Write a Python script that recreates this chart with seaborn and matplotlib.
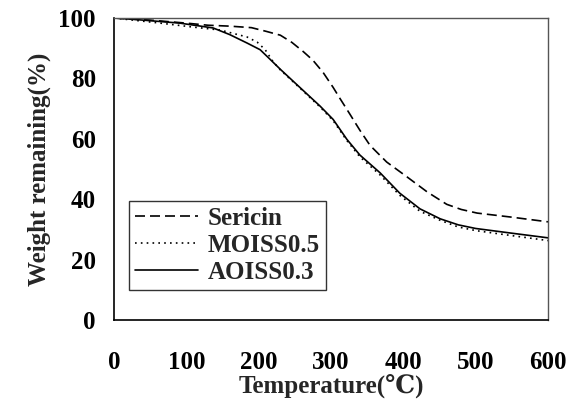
import numpy as np
import pandas as pd
import seaborn as sns
import matplotlib.pyplot as plt

# TGA curves
temp_sericin = [0, 50, 100, 130, 160, 190, 210, 230, 246, 262, 275, 289, 303, 312, 326,
                340, 354, 377, 405, 433, 460, 480, 502, 548, 600]
wt_sericin = [100, 99.3, 98.3, 97.6, 97.3, 96.8, 95.6, 94.3, 91.9, 88.8, 86, 82, 77, 73.5, 68.2,
              62.8, 57.8, 52.3, 47.4, 42.4, 38.3, 36.6, 35.4, 34.1, 32.5]

temp_moiss = [0, 64, 109, 147, 184, 198, 209, 220, 230, 257, 285, 303, 322, 340,
              368, 395, 423, 451, 476, 500, 548, 600]
wt_moiss = [100, 98.3, 97, 96, 93.7, 92, 89.5, 85.5, 82.8, 76.8, 70.5, 66, 59.4, 54,
            48, 41.3, 36, 33, 30.8, 29.6, 28, 26.3]

temp_aoiss = [0, 40, 91, 137, 160, 184, 202, 215, 230, 257, 285, 303, 322, 340,
              368, 395, 423, 451, 476, 500, 548, 600]
wt_aoiss = [100, 99.3, 98.3, 96.7, 94.5, 91.7, 89.5, 86.5, 83, 77, 70.8, 66.4, 59.8, 54.6,
            48.7, 42, 36.8, 33.5, 31.5, 30.3, 28.8, 27.2]

names = ["Sericin", "MOISS0.5", "AOISS0.3"]
x_ticks = [0, 100, 200, 300, 400, 500, 600]
y_ticks = [0, 20, 40, 60, 80, 100]

df = pd.concat([
    pd.DataFrame({"T": temp_sericin, "W": wt_sericin, "sample": names[0]}),
    pd.DataFrame({"T": temp_moiss, "W": wt_moiss, "sample": names[1]}),
    pd.DataFrame({"T": temp_aoiss, "W": wt_aoiss, "sample": names[2]}),
])

sns.set_style("white")
plt.rcParams['font.family'] = ['Liberation Serif', 'DejaVu Serif']
plt.rcParams['font.weight'] = 'bold'

fig = plt.figure(figsize=(5.74, 4.07), dpi=100)
ax = fig.add_axes([0.1986, 0.2138, 0.7561, 0.742])

dash_map = {"Sericin": (6, 3), "MOISS0.5": (1, 2.5), "AOISS0.3": ""}
sns.lineplot(data=df, x="T", y="W", style="sample", dashes=dash_map, color="black",
             linewidth=1.2, sort=False, estimator=None, ax=ax)

ax.set_xlim(0, 600)
ax.set_ylim(0, 100)
ax.set_xticks(x_ticks)
ax.set_yticks(y_ticks)
ax.tick_params(direction="in", length=7, width=1, colors="black", labelsize=18)
ax.tick_params(axis="x", pad=22)
ax.tick_params(axis="y", pad=13)
for lab in ax.get_xticklabels() + ax.get_yticklabels():
    lab.set_fontweight("bold")

for s in ["left", "bottom"]:
    ax.spines[s].set_color("black")
    ax.spines[s].set_linewidth(1.2)
for s in ["top", "right"]:
    ax.spines[s].set_color("#555555")
    ax.spines[s].set_linewidth(1.0)

ax.set_xlabel("Temperature(℃)", fontsize=18, fontweight="bold", labelpad=1)
ax.set_ylabel("Weight remaining(%)", fontsize=18, fontweight="bold", labelpad=5)

leg = ax.legend(loc="lower left", bbox_to_anchor=(0.035, 0.1), fontsize=18, frameon=True,
                fancybox=False, edgecolor="black", handlelength=2.5, borderpad=0.25,
                labelspacing=0.15, handletextpad=0.4, borderaxespad=0)
leg.get_frame().set_linewidth(1.0)
for t in leg.get_texts():
    t.set_fontweight("bold")

fig.savefig("out.png", dpi=100)
